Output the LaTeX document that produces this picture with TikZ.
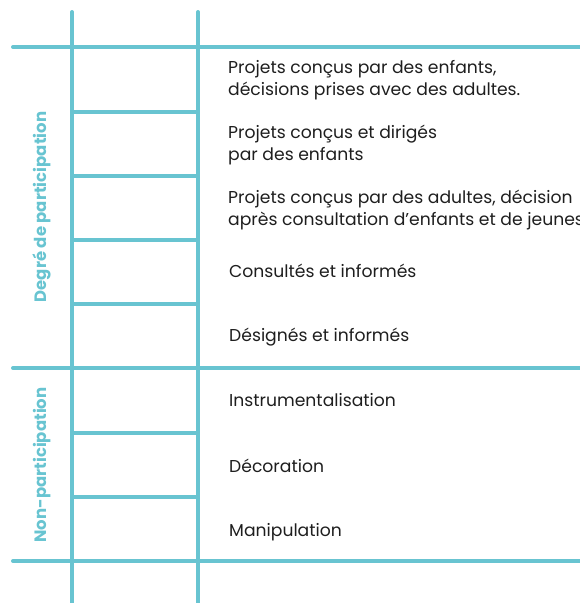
\documentclass[tikz,border=0pt]{standalone}
\usepackage{fontspec}
\setmainfont{Poppins}
\definecolor{ladder}{RGB}{104,196,209}
\definecolor{ink}{RGB}{30,30,30}
\begin{document}
\begin{tikzpicture}[x=1pt,y=-1pt,
  rail/.style={draw=ladder, line width=4pt, line cap=round},
  rung/.style={draw=ladder, line width=4pt},
  item/.style={anchor=base west, inner sep=0pt, text=ink, font=\fontsize{17.2}{22}\selectfont},
  cat/.style={rotate=90, anchor=base, inner sep=0pt, text=ladder, font=\bfseries\fontsize{16.5}{18}\selectfont}]
\useasboundingbox (0,0) rectangle (579,603);
% rails
\coordinate (lt) at (72,12);  \coordinate (lb) at (72,606);
\coordinate (rt) at (198,12); \coordinate (rb) at (198,606);
\draw[rail] (lt) -- (lb);
\draw[rail] (rt) -- (rb);
% full-width lines
\coordinate (h1a) at (13,47);  \coordinate (h1b) at (582,47);
\coordinate (h2a) at (13,368); \coordinate (h2b) at (582,368);
\coordinate (h3a) at (13,561); \coordinate (h3b) at (582,561);
\draw[rail] (h1a) -- (h1b);
\draw[rail] (h2a) -- (h2b);
\draw[rail] (h3a) -- (h3b);
% rungs
\foreach \i/\y in {1/112,2/176,3/240,4/304,5/433,6/497}{
  \coordinate (ra\i) at (72,\y); \coordinate (rb\i) at (198,\y);
  \draw[rung] (ra\i) -- (rb\i);
}
% items
\node[item] (t1) at (228,73) {\parbox[t]{400pt}{Projets conçus par des enfants,\\décisions prises avec des adultes.}};
\node[item] (t2) at (228,138) {\parbox[t]{400pt}{Projets conçus et dirigés\\par des enfants}};
\node[item] (t3) at (228,203) {\parbox[t]{400pt}{Projets conçus par des adultes, décision\\après consultation d’enfants et de jeunes}};
\node[item] (t4) at (229,277) {Consultés et informés};
\node[item] (t5) at (229,341) {Désignés et informés};
\node[item] (t6) at (229,406) {Instrumentalisation};
\node[item] (t7) at (229,472) {Décoration};
\node[item] (t8) at (229,536) {Manipulation};
% categories
\node[cat] (c1) at (46,207) {Degré de participation};
\node[cat] (c2) at (46,465) {Non-participation};
\end{tikzpicture}
\end{document}
